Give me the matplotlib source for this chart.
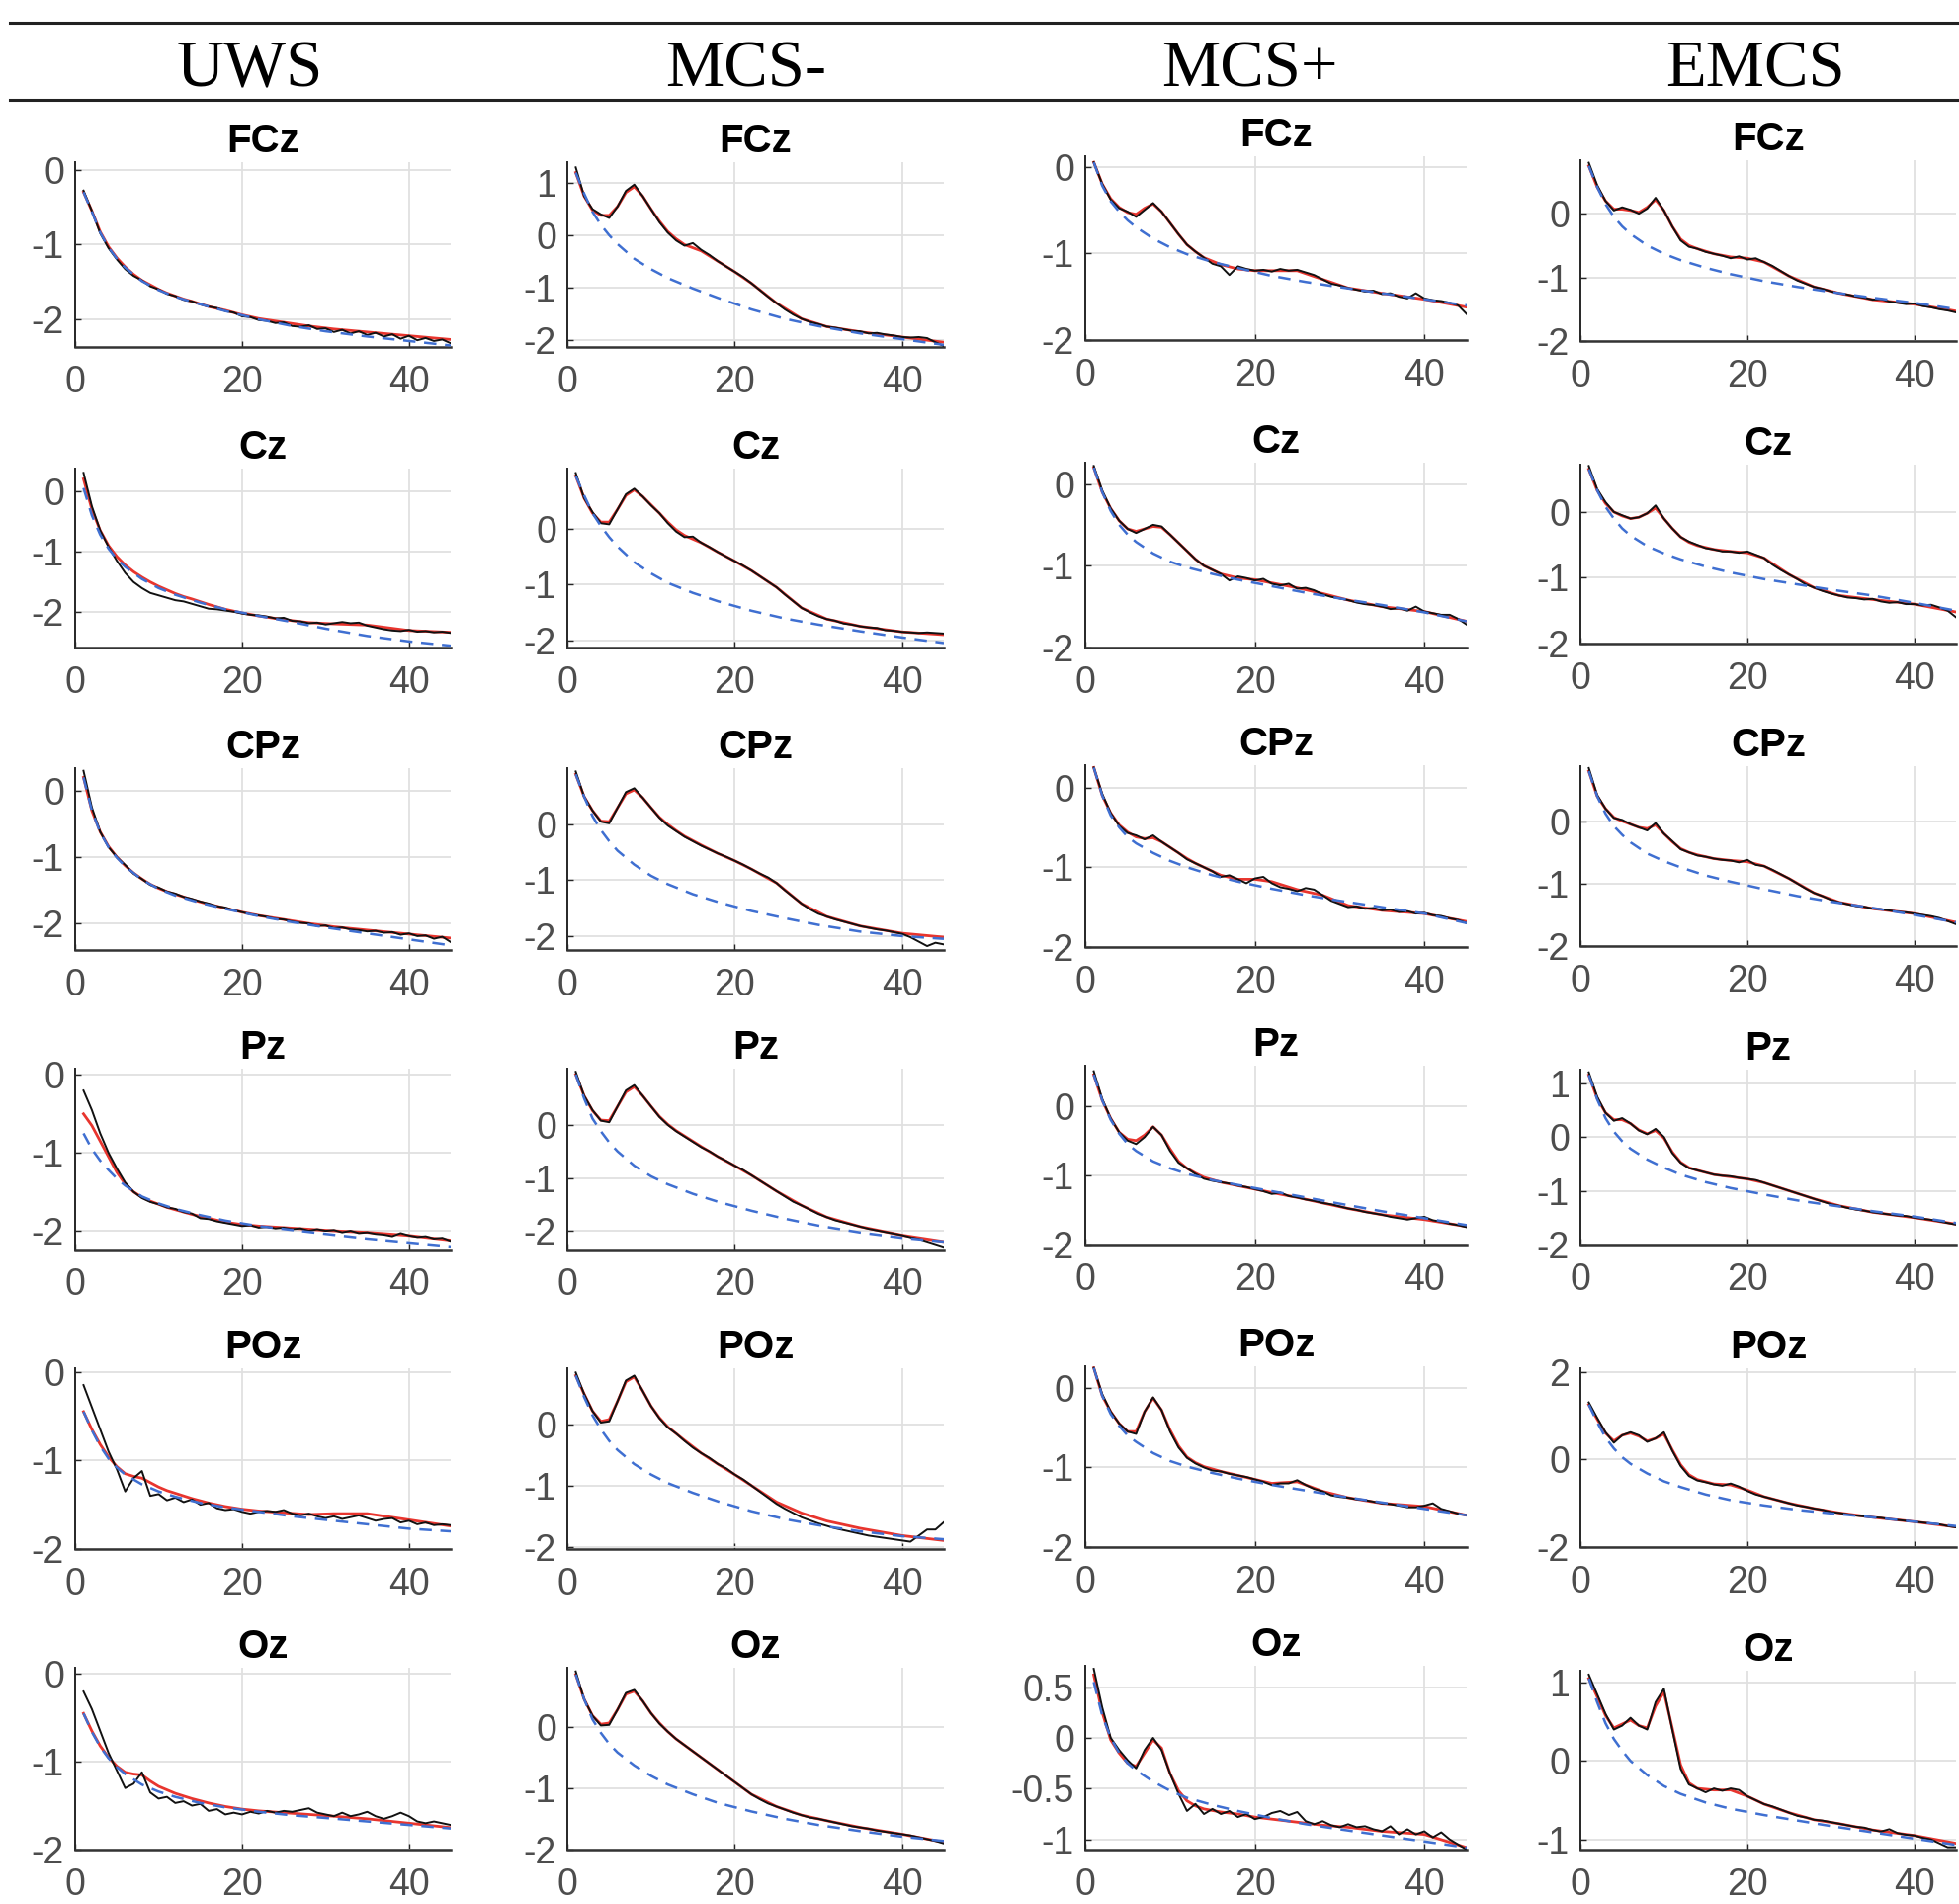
import matplotlib
matplotlib.use("Agg")
import matplotlib.pyplot as plt
from matplotlib.lines import Line2D
from matplotlib.ticker import FormatStrFormatter

plt.rcParams['font.family'] = ['Liberation Sans', 'DejaVu Sans']
plt.rcParams['axes.unicode_minus'] = False

GROUPS = ["UWS", "MCS-", "MCS+", "EMCS"]
CHANNELS = ["FCz", "Cz", "CPz", "Pz", "POz", "Oz"]

# frequency grids (Hz)
FREQ = list(range(1, 46))
FREQ_FIT = [1, 2, 3, 4, 5, 6, 7, 8, 9, 10, 11, 12, 13, 14, 16, 18, 20, 22, 25, 28, 31, 35, 40, 45]
FREQ_AP = [1, 2, 3, 4, 5, 6, 8, 10, 12, 15, 18, 22, 26, 30, 35, 40, 45]

# ---------------- UWS ----------------
UWS_FCZ_PSD = [-0.28, -0.55, -0.85, -1.05, -1.2, -1.33, -1.42, -1.48, -1.56, -1.6, -1.66, -1.69, -1.74, -1.76, -1.8,
               -1.83, -1.85, -1.89, -1.91, -1.96, -1.97, -2.01, -2.02, -2.05, -2.04, -2.09, -2.1, -2.08, -2.13, -2.12,
               -2.17, -2.14, -2.19, -2.16, -2.21, -2.18, -2.23, -2.2, -2.26, -2.22, -2.28, -2.25, -2.29, -2.27, -2.32]
UWS_FCZ_FIT = [-0.3, -0.55, -0.83, -1.03, -1.18, -1.3, -1.4, -1.48, -1.54, -1.6, -1.65, -1.69, -1.73, -1.76, -1.83,
               -1.88, -1.94, -1.99, -2.04, -2.09, -2.13, -2.17, -2.22, -2.27]
UWS_FCZ_APER = [-0.3, -0.56, -0.84, -1.04, -1.19, -1.31, -1.49, -1.61, -1.7, -1.8, -1.89, -2.0, -2.09, -2.16, -2.23,
                -2.29, -2.35]

UWS_CZ_PSD = [0.3, -0.25, -0.65, -0.92, -1.15, -1.35, -1.5, -1.6, -1.68, -1.72, -1.76, -1.8, -1.82, -1.86, -1.9,
              -1.94, -1.95, -1.97, -1.99, -2.02, -2.04, -2.05, -2.07, -2.1, -2.09, -2.14, -2.15, -2.18, -2.17, -2.2,
              -2.18, -2.16, -2.18, -2.17, -2.22, -2.25, -2.28, -2.3, -2.31, -2.29, -2.32, -2.31, -2.33, -2.32, -2.34]
UWS_CZ_FIT = [0.2, -0.3, -0.65, -0.9, -1.08, -1.22, -1.33, -1.42, -1.5, -1.57, -1.63, -1.69, -1.74, -1.78, -1.87,
              -1.95, -2.01, -2.06, -2.12, -2.17, -2.19, -2.21, -2.3, -2.33]
UWS_CZ_APER = [0.05, -0.4, -0.72, -0.95, -1.12, -1.25, -1.45, -1.6, -1.71, -1.84, -1.95, -2.06, -2.16, -2.27, -2.39,
               -2.48, -2.55]

UWS_CPZ_PSD = [0.3, -0.25, -0.62, -0.85, -1.0, -1.12, -1.25, -1.33, -1.42, -1.46, -1.52, -1.55, -1.6, -1.63, -1.67,
               -1.7, -1.74, -1.76, -1.8, -1.83, -1.86, -1.88, -1.9, -1.93, -1.94, -1.97, -1.99, -2.0, -2.04, -2.03,
               -2.07, -2.06, -2.09, -2.1, -2.12, -2.11, -2.14, -2.13, -2.17, -2.15, -2.19, -2.18, -2.23, -2.2, -2.28]
UWS_CPZ_FIT = [0.2, -0.3, -0.62, -0.84, -1.0, -1.13, -1.24, -1.33, -1.41, -1.47, -1.52, -1.56, -1.6, -1.64, -1.71,
               -1.77, -1.83, -1.88, -1.94, -2.0, -2.05, -2.1, -2.16, -2.22]
UWS_CPZ_APER = [0.2, -0.3, -0.63, -0.85, -1.01, -1.14, -1.34, -1.48, -1.58, -1.69, -1.78, -1.89, -1.98, -2.06, -2.15,
                -2.24, -2.33]

UWS_PZ_PSD = [-0.2, -0.45, -0.75, -1.0, -1.2, -1.38, -1.5, -1.58, -1.63, -1.66, -1.7, -1.72, -1.76, -1.78, -1.84,
              -1.85, -1.88, -1.9, -1.92, -1.94, -1.93, -1.96, -1.95, -1.97, -1.96, -1.98, -1.97, -2.0, -1.98, -2.0,
              -1.99, -2.02, -2.0, -2.03, -2.02, -2.04, -2.05, -2.07, -2.03, -2.06, -2.08, -2.07, -2.1, -2.09, -2.13]
UWS_PZ_FIT = [-0.5, -0.65, -0.85, -1.05, -1.25, -1.4, -1.5, -1.57, -1.62, -1.66, -1.7, -1.73, -1.76, -1.79, -1.84,
              -1.89, -1.92, -1.94, -1.96, -1.98, -2.0, -2.02, -2.06, -2.12]
UWS_PZ_APER = [-0.75, -0.95, -1.1, -1.22, -1.33, -1.42, -1.56, -1.65, -1.72, -1.8, -1.87, -1.94, -1.99, -2.04, -2.1,
               -2.15, -2.2]

UWS_POZ_PSD = [-0.15, -0.4, -0.65, -0.9, -1.1, -1.35, -1.2, -1.12, -1.4, -1.38, -1.45, -1.42, -1.47, -1.44, -1.5,
               -1.48, -1.54, -1.56, -1.55, -1.58, -1.6, -1.58, -1.57, -1.58, -1.56, -1.6, -1.62, -1.6, -1.63, -1.65,
               -1.63, -1.66, -1.64, -1.62, -1.65, -1.68, -1.66, -1.65, -1.7, -1.68, -1.72, -1.7, -1.73, -1.72, -1.73]
UWS_POZ_FIT = [-0.45, -0.65, -0.82, -0.96, -1.07, -1.15, -1.18, -1.2, -1.25, -1.3, -1.34, -1.37, -1.4, -1.43, -1.48,
               -1.52, -1.55, -1.57, -1.59, -1.61, -1.6, -1.6, -1.67, -1.74]
UWS_POZ_APER = [-0.45, -0.66, -0.84, -0.98, -1.08, -1.16, -1.27, -1.35, -1.41, -1.48, -1.53, -1.58, -1.63, -1.67,
                -1.72, -1.77, -1.8]

UWS_OZ_PSD = [-0.2, -0.4, -0.65, -0.9, -1.1, -1.3, -1.25, -1.12, -1.35, -1.42, -1.4, -1.47, -1.45, -1.5, -1.48,
              -1.56, -1.54, -1.6, -1.58, -1.6, -1.57, -1.59, -1.56, -1.58, -1.56, -1.57, -1.55, -1.53, -1.58, -1.6,
              -1.62, -1.58, -1.62, -1.6, -1.57, -1.62, -1.65, -1.62, -1.58, -1.62, -1.68, -1.7, -1.68, -1.7, -1.72]
UWS_OZ_FIT = [-0.45, -0.65, -0.82, -0.95, -1.05, -1.12, -1.14, -1.15, -1.22, -1.28, -1.32, -1.36, -1.39, -1.42,
              -1.47, -1.51, -1.54, -1.56, -1.58, -1.6, -1.62, -1.65, -1.7, -1.75]
UWS_OZ_APER = [-0.45, -0.66, -0.83, -0.96, -1.06, -1.14, -1.26, -1.34, -1.4, -1.47, -1.52, -1.57, -1.61, -1.64, -1.68,
               -1.72, -1.76]

# ---------------- MCS- ----------------
MCSM_FCZ_PSD = [1.3, 0.75, 0.5, 0.4, 0.33, 0.55, 0.85, 0.97, 0.75, 0.5, 0.25, 0.05, -0.1, -0.2, -0.15, -0.28, -0.38,
                -0.5, -0.6, -0.7, -0.8, -0.92, -1.05, -1.18, -1.3, -1.42, -1.52, -1.6, -1.66, -1.7, -1.75, -1.77,
                -1.8, -1.83, -1.84, -1.88, -1.87, -1.9, -1.92, -1.95, -1.96, -1.95, -1.97, -2.05, -2.12]
MCSM_FCZ_FIT = [1.2, 0.75, 0.48, 0.38, 0.38, 0.55, 0.82, 0.93, 0.75, 0.5, 0.27, 0.07, -0.07, -0.18, -0.3, -0.5, -0.7,
                -0.92, -1.3, -1.6, -1.75, -1.85, -1.95, -2.05]
MCSM_FCZ_APER = [1.2, 0.8, 0.45, 0.2, 0.0, -0.17, -0.45, -0.65, -0.82, -1.02, -1.2, -1.42, -1.6, -1.74, -1.88, -1.99,
                 -2.1]

MCSM_CZ_PSD = [1.0, 0.55, 0.3, 0.1, 0.08, 0.35, 0.62, 0.72, 0.58, 0.42, 0.28, 0.1, -0.05, -0.15, -0.14, -0.25, -0.33,
               -0.42, -0.5, -0.58, -0.66, -0.75, -0.85, -0.95, -1.05, -1.18, -1.3, -1.42, -1.5, -1.57, -1.62, -1.65,
               -1.7, -1.72, -1.75, -1.77, -1.78, -1.82, -1.83, -1.85, -1.86, -1.87, -1.86, -1.87, -1.88]
MCSM_CZ_FIT = [0.95, 0.55, 0.28, 0.12, 0.12, 0.35, 0.6, 0.7, 0.58, 0.43, 0.28, 0.12, -0.02, -0.12, -0.25, -0.42,
               -0.58, -0.75, -1.05, -1.42, -1.62, -1.75, -1.85, -1.9]
MCSM_CZ_APER = [0.95, 0.6, 0.28, 0.05, -0.15, -0.32, -0.6, -0.8, -0.97, -1.15, -1.3, -1.47, -1.61, -1.72, -1.84,
                -1.95, -2.05]

MCSM_CPZ_PSD = [0.95, 0.5, 0.25, 0.05, 0.02, 0.3, 0.58, 0.65, 0.48, 0.3, 0.12, -0.02, -0.12, -0.22, -0.3, -0.38,
                -0.45, -0.52, -0.58, -0.65, -0.72, -0.8, -0.88, -0.95, -1.05, -1.18, -1.3, -1.42, -1.52, -1.6, -1.65,
                -1.7, -1.74, -1.78, -1.82, -1.85, -1.88, -1.9, -1.93, -1.96, -2.02, -2.1, -2.18, -2.12, -2.15]
MCSM_CPZ_FIT = [0.9, 0.5, 0.25, 0.06, 0.05, 0.3, 0.55, 0.62, 0.48, 0.3, 0.13, 0.0, -0.11, -0.21, -0.37, -0.52, -0.65,
                -0.8, -1.05, -1.42, -1.65, -1.82, -1.95, -2.02]
MCSM_CPZ_APER = [0.9, 0.5, 0.15, -0.1, -0.3, -0.47, -0.72, -0.92, -1.07, -1.25, -1.39, -1.55, -1.68, -1.8, -1.92,
                 -2.0, -2.05]

MCSM_PZ_PSD = [1.0, 0.55, 0.28, 0.08, 0.05, 0.35, 0.65, 0.75, 0.55, 0.35, 0.15, 0.0, -0.12, -0.22, -0.32, -0.42,
               -0.5, -0.6, -0.68, -0.77, -0.85, -0.95, -1.05, -1.15, -1.25, -1.35, -1.45, -1.52, -1.6, -1.68, -1.74,
               -1.8, -1.84, -1.88, -1.92, -1.96, -1.99, -2.02, -2.05, -2.08, -2.12, -2.15, -2.2, -2.25, -2.3]
MCSM_PZ_FIT = [0.95, 0.55, 0.27, 0.09, 0.08, 0.35, 0.62, 0.72, 0.55, 0.35, 0.16, 0.01, -0.11, -0.21, -0.41, -0.6,
               -0.77, -0.95, -1.25, -1.52, -1.74, -1.92, -2.08, -2.2]
MCSM_PZ_APER = [0.95, 0.5, 0.12, -0.12, -0.33, -0.5, -0.77, -0.97, -1.12, -1.3, -1.45, -1.62, -1.77, -1.9, -2.03,
                -2.13, -2.2]

MCSM_POZ_PSD = [0.85, 0.5, 0.22, 0.03, 0.05, 0.38, 0.72, 0.8, 0.55, 0.3, 0.1, -0.05, -0.15, -0.27, -0.38, -0.47,
                -0.55, -0.65, -0.72, -0.82, -0.9, -1.0, -1.1, -1.2, -1.3, -1.38, -1.45, -1.52, -1.57, -1.62, -1.66,
                -1.7, -1.73, -1.76, -1.79, -1.82, -1.84, -1.86, -1.88, -1.9, -1.92, -1.82, -1.72, -1.72, -1.6]
MCSM_POZ_FIT = [0.8, 0.5, 0.22, 0.05, 0.08, 0.38, 0.7, 0.78, 0.55, 0.3, 0.11, -0.04, -0.15, -0.26, -0.47, -0.65,
                -0.82, -1.0, -1.27, -1.45, -1.58, -1.7, -1.82, -1.9]
MCSM_POZ_APER = [0.8, 0.45, 0.15, -0.08, -0.27, -0.42, -0.65, -0.82, -0.96, -1.12, -1.26, -1.42, -1.55, -1.65, -1.75,
                 -1.83, -1.88]

MCSM_OZ_PSD = [0.9, 0.45, 0.18, 0.02, 0.03, 0.28, 0.55, 0.6, 0.42, 0.22, 0.05, -0.08, -0.2, -0.3, -0.4, -0.5, -0.6,
               -0.7, -0.8, -0.9, -1.0, -1.1, -1.18, -1.25, -1.3, -1.35, -1.4, -1.44, -1.48, -1.5, -1.53, -1.56, -1.59,
               -1.62, -1.64, -1.66, -1.69, -1.71, -1.73, -1.75, -1.77, -1.8, -1.83, -1.86, -1.9]
MCSM_OZ_FIT = [0.85, 0.45, 0.18, 0.04, 0.06, 0.28, 0.53, 0.58, 0.42, 0.22, 0.06, -0.08, -0.2, -0.3, -0.5, -0.7, -0.9,
               -1.1, -1.3, -1.44, -1.53, -1.64, -1.75, -1.88]
MCSM_OZ_APER = [0.85, 0.45, 0.12, -0.1, -0.28, -0.42, -0.63, -0.8, -0.94, -1.1, -1.24, -1.38, -1.5, -1.6, -1.7,
                -1.79, -1.86]

# ---------------- MCS+ ----------------
MCSP_FCZ_PSD = [0.05, -0.2, -0.38, -0.48, -0.52, -0.58, -0.5, -0.42, -0.52, -0.65, -0.78, -0.9, -0.98, -1.05, -1.12,
                -1.15, -1.25, -1.15, -1.18, -1.2, -1.19, -1.21, -1.18, -1.2, -1.19, -1.22, -1.25, -1.3, -1.35, -1.37,
                -1.4, -1.42, -1.44, -1.43, -1.47, -1.46, -1.5, -1.52, -1.46, -1.52, -1.54, -1.55, -1.57, -1.6, -1.7]
MCSP_FCZ_FIT = [0.05, -0.2, -0.37, -0.47, -0.53, -0.55, -0.48, -0.43, -0.52, -0.65, -0.78, -0.9, -0.98, -1.05, -1.13,
                -1.18, -1.2, -1.2, -1.2, -1.3, -1.4, -1.46, -1.53, -1.62]
MCSP_FCZ_APER = [0.05, -0.22, -0.4, -0.52, -0.62, -0.7, -0.83, -0.93, -1.01, -1.1, -1.17, -1.26, -1.33, -1.39, -1.46,
                 -1.53, -1.6]

MCSP_CZ_PSD = [0.22, -0.08, -0.3, -0.45, -0.55, -0.6, -0.55, -0.5, -0.52, -0.62, -0.72, -0.82, -0.92, -1.0, -1.05,
               -1.1, -1.18, -1.13, -1.15, -1.18, -1.16, -1.22, -1.24, -1.22, -1.28, -1.27, -1.3, -1.35, -1.38, -1.4,
               -1.42, -1.45, -1.47, -1.48, -1.5, -1.53, -1.52, -1.55, -1.5, -1.56, -1.58, -1.6, -1.6, -1.65, -1.72]
MCSP_CZ_FIT = [0.2, -0.1, -0.3, -0.45, -0.55, -0.58, -0.55, -0.52, -0.53, -0.62, -0.72, -0.82, -0.92, -1.0, -1.1,
               -1.15, -1.17, -1.21, -1.27, -1.34, -1.42, -1.5, -1.56, -1.68]
MCSP_CZ_APER = [0.2, -0.1, -0.33, -0.5, -0.62, -0.71, -0.85, -0.95, -1.02, -1.1, -1.17, -1.25, -1.33, -1.4, -1.48,
                -1.57, -1.68]

MCSP_CPZ_PSD = [0.25, -0.08, -0.32, -0.48, -0.57, -0.6, -0.65, -0.6, -0.68, -0.75, -0.82, -0.9, -0.95, -1.0, -1.05,
                -1.12, -1.1, -1.15, -1.2, -1.14, -1.12, -1.2, -1.25, -1.27, -1.3, -1.26, -1.28, -1.35, -1.42, -1.46,
                -1.5, -1.49, -1.52, -1.51, -1.54, -1.53, -1.56, -1.55, -1.58, -1.57, -1.6, -1.61, -1.64, -1.66, -1.7]
MCSP_CPZ_FIT = [0.25, -0.1, -0.32, -0.47, -0.56, -0.62, -0.64, -0.63, -0.68, -0.75, -0.82, -0.89, -0.95, -1.0, -1.1,
                -1.15, -1.15, -1.18, -1.28, -1.35, -1.48, -1.54, -1.58, -1.68]
MCSP_CPZ_APER = [0.25, -0.1, -0.35, -0.5, -0.62, -0.7, -0.82, -0.92, -1.0, -1.1, -1.18, -1.27, -1.35, -1.42, -1.5,
                 -1.58, -1.7]

MCSP_PZ_PSD = [0.5, 0.1, -0.18, -0.38, -0.5, -0.55, -0.45, -0.3, -0.42, -0.65, -0.82, -0.9, -0.98, -1.05, -1.08,
               -1.1, -1.12, -1.15, -1.17, -1.2, -1.23, -1.27, -1.25, -1.3, -1.32, -1.35, -1.37, -1.4, -1.42, -1.45,
               -1.48, -1.5, -1.53, -1.55, -1.57, -1.6, -1.62, -1.64, -1.62, -1.6, -1.65, -1.67, -1.7, -1.72, -1.75]
MCSP_PZ_FIT = [0.45, 0.08, -0.18, -0.38, -0.48, -0.5, -0.42, -0.3, -0.42, -0.62, -0.8, -0.9, -0.97, -1.03, -1.1,
               -1.15, -1.2, -1.25, -1.32, -1.4, -1.48, -1.57, -1.64, -1.74]
MCSP_PZ_APER = [0.45, 0.08, -0.2, -0.4, -0.55, -0.65, -0.8, -0.9, -0.98, -1.07, -1.14, -1.23, -1.32, -1.41, -1.52,
                -1.62, -1.72]

MCSP_POZ_PSD = [0.25, -0.08, -0.3, -0.45, -0.55, -0.58, -0.3, -0.12, -0.28, -0.55, -0.75, -0.88, -0.95, -1.0, -1.04,
                -1.05, -1.08, -1.1, -1.12, -1.15, -1.18, -1.22, -1.2, -1.2, -1.16, -1.22, -1.27, -1.3, -1.35, -1.37,
                -1.38, -1.4, -1.41, -1.43, -1.45, -1.46, -1.48, -1.5, -1.5, -1.48, -1.45, -1.52, -1.55, -1.58, -1.6]
MCSP_POZ_FIT = [0.25, -0.1, -0.3, -0.45, -0.55, -0.55, -0.3, -0.13, -0.28, -0.53, -0.73, -0.87, -0.94, -0.99, -1.05,
                -1.1, -1.15, -1.2, -1.18, -1.3, -1.38, -1.45, -1.49, -1.6]
MCSP_POZ_APER = [0.25, -0.1, -0.33, -0.48, -0.6, -0.68, -0.82, -0.92, -0.99, -1.07, -1.14, -1.22, -1.29, -1.36, -1.44,
                 -1.52, -1.6]

MCSP_OZ_PSD = [0.68, 0.3, 0.0, -0.12, -0.22, -0.3, -0.12, 0.0, -0.12, -0.35, -0.55, -0.72, -0.65, -0.75, -0.7, -0.75,
               -0.72, -0.78, -0.75, -0.8, -0.78, -0.74, -0.72, -0.76, -0.73, -0.82, -0.85, -0.82, -0.86, -0.88, -0.85,
               -0.88, -0.87, -0.9, -0.92, -0.87, -0.95, -0.9, -0.95, -0.92, -0.98, -0.93, -1.0, -1.05, -1.1]
MCSP_OZ_FIT = [0.62, 0.25, -0.02, -0.15, -0.25, -0.28, -0.15, -0.02, -0.1, -0.35, -0.52, -0.62, -0.67, -0.7, -0.73,
               -0.75, -0.78, -0.8, -0.83, -0.86, -0.88, -0.92, -0.95, -1.08]
MCSP_OZ_APER = [0.55, 0.22, 0.0, -0.15, -0.25, -0.32, -0.43, -0.52, -0.59, -0.66, -0.72, -0.79, -0.85, -0.9, -0.96,
                -1.02, -1.08]

# ---------------- EMCS ----------------
EMCS_FCZ_PSD = [0.8, 0.45, 0.2, 0.05, 0.1, 0.06, 0.0, 0.08, 0.25, 0.05, -0.2, -0.42, -0.52, -0.55, -0.6, -0.63, -0.66,
                -0.7, -0.67, -0.72, -0.7, -0.76, -0.82, -0.9, -0.98, -1.05, -1.1, -1.15, -1.18, -1.22, -1.25, -1.27,
                -1.3, -1.32, -1.35, -1.34, -1.38, -1.4, -1.42, -1.41, -1.45, -1.47, -1.5, -1.52, -1.55]
EMCS_FCZ_FIT = [0.75, 0.42, 0.2, 0.07, 0.07, 0.05, 0.02, 0.1, 0.22, 0.05, -0.2, -0.4, -0.5, -0.55, -0.63, -0.68, -0.7,
                -0.76, -0.98, -1.15, -1.25, -1.35, -1.42, -1.53]
EMCS_FCZ_APER = [0.75, 0.42, 0.15, -0.05, -0.2, -0.32, -0.5, -0.63, -0.73, -0.85, -0.95, -1.06, -1.15, -1.23, -1.32,
                 -1.4, -1.5]

EMCS_CZ_PSD = [0.7, 0.35, 0.15, 0.0, -0.05, -0.1, -0.08, -0.02, 0.1, -0.1, -0.25, -0.38, -0.45, -0.5, -0.55, -0.57,
               -0.6, -0.6, -0.62, -0.6, -0.65, -0.7, -0.8, -0.88, -0.95, -1.02, -1.1, -1.15, -1.2, -1.24, -1.27, -1.3,
               -1.31, -1.33, -1.32, -1.36, -1.38, -1.37, -1.4, -1.4, -1.42, -1.41, -1.45, -1.5, -1.6]
EMCS_CZ_FIT = [0.65, 0.33, 0.13, 0.0, -0.06, -0.1, -0.08, -0.02, 0.06, -0.1, -0.25, -0.38, -0.46, -0.51, -0.57, -0.6,
               -0.62, -0.7, -0.95, -1.15, -1.27, -1.33, -1.4, -1.52]
EMCS_CZ_APER = [0.65, 0.33, 0.08, -0.1, -0.25, -0.36, -0.52, -0.63, -0.72, -0.83, -0.92, -1.02, -1.1, -1.18, -1.27,
                -1.38, -1.5]

EMCS_CPZ_PSD = [0.85, 0.42, 0.2, 0.05, 0.02, -0.05, -0.1, -0.15, -0.03, -0.2, -0.32, -0.45, -0.5, -0.55, -0.57, -0.6,
                -0.62, -0.63, -0.66, -0.62, -0.7, -0.72, -0.78, -0.85, -0.92, -1.0, -1.08, -1.15, -1.2, -1.26, -1.3,
                -1.33, -1.36, -1.37, -1.4, -1.41, -1.43, -1.45, -1.46, -1.48, -1.5, -1.52, -1.55, -1.6, -1.65]
EMCS_CPZ_FIT = [0.8, 0.4, 0.2, 0.06, 0.0, -0.05, -0.1, -0.12, -0.06, -0.2, -0.33, -0.44, -0.5, -0.54, -0.6, -0.63,
                -0.65, -0.72, -0.92, -1.15, -1.3, -1.4, -1.48, -1.62]
EMCS_CPZ_APER = [0.8, 0.4, 0.12, -0.08, -0.22, -0.34, -0.52, -0.64, -0.74, -0.87, -0.97, -1.09, -1.2, -1.29, -1.39,
                 -1.5, -1.62]

EMCS_PZ_PSD = [1.2, 0.75, 0.45, 0.3, 0.35, 0.25, 0.12, 0.05, 0.15, 0.0, -0.3, -0.48, -0.58, -0.62, -0.66, -0.7, -0.72,
               -0.73, -0.76, -0.78, -0.8, -0.85, -0.9, -0.95, -1.0, -1.05, -1.1, -1.15, -1.2, -1.25, -1.28, -1.32,
               -1.35, -1.37, -1.4, -1.42, -1.44, -1.46, -1.47, -1.5, -1.52, -1.54, -1.57, -1.6, -1.63]
EMCS_PZ_FIT = [1.15, 0.72, 0.45, 0.32, 0.32, 0.25, 0.13, 0.06, 0.12, -0.02, -0.28, -0.47, -0.57, -0.62, -0.7, -0.74,
               -0.78, -0.85, -1.0, -1.15, -1.28, -1.4, -1.5, -1.62]
EMCS_PZ_APER = [1.15, 0.7, 0.35, 0.1, -0.08, -0.22, -0.42, -0.57, -0.7, -0.84, -0.95, -1.07, -1.18, -1.27, -1.38,
                -1.48, -1.6]

EMCS_POZ_PSD = [1.3, 0.95, 0.62, 0.38, 0.55, 0.62, 0.55, 0.4, 0.48, 0.62, 0.2, -0.15, -0.38, -0.48, -0.52, -0.57,
                -0.6, -0.55, -0.62, -0.72, -0.8, -0.85, -0.9, -0.95, -1.0, -1.05, -1.08, -1.12, -1.15, -1.2, -1.22,
                -1.25, -1.28, -1.3, -1.32, -1.33, -1.36, -1.38, -1.4, -1.42, -1.44, -1.46, -1.48, -1.52, -1.55]
EMCS_POZ_FIT = [1.25, 0.92, 0.6, 0.42, 0.55, 0.6, 0.53, 0.42, 0.48, 0.58, 0.22, -0.12, -0.35, -0.46, -0.56, -0.58,
                -0.7, -0.85, -1.0, -1.12, -1.22, -1.32, -1.42, -1.54]
EMCS_POZ_APER = [1.25, 0.85, 0.5, 0.25, 0.05, -0.1, -0.32, -0.5, -0.63, -0.8, -0.93, -1.05, -1.15, -1.23, -1.32,
                 -1.42, -1.52]

EMCS_OZ_PSD = [1.1, 0.85, 0.6, 0.4, 0.45, 0.55, 0.45, 0.4, 0.75, 0.92, 0.4, -0.1, -0.3, -0.35, -0.4, -0.35, -0.38,
               -0.35, -0.37, -0.45, -0.5, -0.55, -0.58, -0.62, -0.66, -0.7, -0.72, -0.75, -0.76, -0.78, -0.8, -0.82,
               -0.84, -0.85, -0.88, -0.9, -0.87, -0.92, -0.94, -0.95, -0.98, -1.0, -1.05, -1.1, -1.1]
EMCS_OZ_FIT = [1.05, 0.82, 0.58, 0.42, 0.47, 0.52, 0.45, 0.42, 0.7, 0.88, 0.42, -0.05, -0.28, -0.35, -0.37, -0.37,
               -0.45, -0.55, -0.66, -0.75, -0.8, -0.88, -0.95, -1.05]
EMCS_OZ_APER = [1.05, 0.75, 0.48, 0.28, 0.13, 0.0, -0.18, -0.32, -0.42, -0.53, -0.61, -0.69, -0.76, -0.83, -0.91,
                -0.99, -1.07]

# y-axis limits and ticks, one entry per channel (rows), per group (columns)
UWS_YLIM = [(-2.37, 0.1), (-2.58, 0.37), (-2.40, 0.34), (-2.24, 0.08), (-2.0, 0.04), (-2.0, 0.07)]
MCSM_YLIM = [(-2.14, 1.4), (-2.13, 1.08), (-2.25, 1.01), (-2.35, 1.06), (-2.04, 0.92), (-2.0, 0.96)]
MCSP_YLIM = [(-2.0, 0.12), (-2.0, 0.26), (-2.0, 0.28), (-2.0, 0.58), (-2.0, 0.27), (-1.1, 0.71)]
EMCS_YLIM = [(-2.0, 0.84), (-2.0, 0.72), (-2.0, 0.88), (-2.0, 1.25), (-2.0, 2.08), (-1.13, 1.15)]

UWS_YTICKS = [[-2, -1, 0]] * 6
MCSM_YTICKS = [[-2, -1, 0, 1], [-2, -1, 0], [-2, -1, 0], [-2, -1, 0], [-2, -1, 0], [-2, -1, 0]]
MCSP_YTICKS = [[-2, -1, 0]] * 5 + [[-1, -0.5, 0, 0.5]]
EMCS_YTICKS = [[-2, -1, 0], [-2, -1, 0], [-2, -1, 0], [-2, -1, 0, 1], [-2, 0, 2], [-1, 0, 1]]

series = {
    "UWS": [(UWS_FCZ_PSD, UWS_FCZ_FIT, UWS_FCZ_APER), (UWS_CZ_PSD, UWS_CZ_FIT, UWS_CZ_APER),
            (UWS_CPZ_PSD, UWS_CPZ_FIT, UWS_CPZ_APER), (UWS_PZ_PSD, UWS_PZ_FIT, UWS_PZ_APER),
            (UWS_POZ_PSD, UWS_POZ_FIT, UWS_POZ_APER), (UWS_OZ_PSD, UWS_OZ_FIT, UWS_OZ_APER)],
    "MCS-": [(MCSM_FCZ_PSD, MCSM_FCZ_FIT, MCSM_FCZ_APER), (MCSM_CZ_PSD, MCSM_CZ_FIT, MCSM_CZ_APER),
             (MCSM_CPZ_PSD, MCSM_CPZ_FIT, MCSM_CPZ_APER), (MCSM_PZ_PSD, MCSM_PZ_FIT, MCSM_PZ_APER),
             (MCSM_POZ_PSD, MCSM_POZ_FIT, MCSM_POZ_APER), (MCSM_OZ_PSD, MCSM_OZ_FIT, MCSM_OZ_APER)],
    "MCS+": [(MCSP_FCZ_PSD, MCSP_FCZ_FIT, MCSP_FCZ_APER), (MCSP_CZ_PSD, MCSP_CZ_FIT, MCSP_CZ_APER),
             (MCSP_CPZ_PSD, MCSP_CPZ_FIT, MCSP_CPZ_APER), (MCSP_PZ_PSD, MCSP_PZ_FIT, MCSP_PZ_APER),
             (MCSP_POZ_PSD, MCSP_POZ_FIT, MCSP_POZ_APER), (MCSP_OZ_PSD, MCSP_OZ_FIT, MCSP_OZ_APER)],
    "EMCS": [(EMCS_FCZ_PSD, EMCS_FCZ_FIT, EMCS_FCZ_APER), (EMCS_CZ_PSD, EMCS_CZ_FIT, EMCS_CZ_APER),
             (EMCS_CPZ_PSD, EMCS_CPZ_FIT, EMCS_CPZ_APER), (EMCS_PZ_PSD, EMCS_PZ_FIT, EMCS_PZ_APER),
             (EMCS_POZ_PSD, EMCS_POZ_FIT, EMCS_POZ_APER), (EMCS_OZ_PSD, EMCS_OZ_FIT, EMCS_OZ_APER)],
}
ylims = {"UWS": UWS_YLIM, "MCS-": MCSM_YLIM, "MCS+": MCSP_YLIM, "EMCS": EMCS_YLIM}
yticks = {"UWS": UWS_YTICKS, "MCS-": MCSM_YTICKS, "MCS+": MCSP_YTICKS, "EMCS": EMCS_YTICKS}

# layout in pixels of the 1982x1926 canvas
W, H = 1982, 1926
COL_LEFT = [76, 574, 1098, 1599]
COL_WIDTH = [380, 381, 386, 380]
ROW_TOP = [[164, 474, 777, 1081, 1384, 1687], [164, 474, 777, 1081, 1384, 1687],
           [158, 468, 774, 1078, 1382, 1685], [162, 470, 775, 1082, 1384, 1690]]
ROW_BOT = [[351, 655, 961, 1264, 1567, 1871], [351, 655, 961, 1264, 1567, 1871],
           [344, 655, 958, 1259, 1565, 1871], [345, 651, 957, 1259, 1565, 1871]]
HEADER_X = [253, 755, 1264, 1776]

fig = plt.figure(figsize=(W / 100, H / 100), dpi=100)

tick_color = "#4d4d4d"
for c, grp in enumerate(GROUPS):
    for r, ch in enumerate(CHANNELS):
        top, bot = ROW_TOP[c][r], ROW_BOT[c][r]
        ax = fig.add_axes([COL_LEFT[c] / W, 1 - bot / H, COL_WIDTH[c] / W, (bot - top) / H])
        psd, fit, aper = series[grp][r]
        ax.plot(FREQ_FIT, fit, color="#e8352e", lw=2.0, zorder=3)
        ax.plot(FREQ, psd, color="#111111", lw=1.4, zorder=4)
        ax.plot(FREQ_AP, aper, color="#3f6fd1", lw=1.8, ls=(0, (5, 3.5)), zorder=5)
        ax.set_xlim(0, 45)
        ax.set_ylim(*ylims[grp][r])
        ax.set_xticks([0, 20, 40])
        ax.set_yticks(yticks[grp][r])
        ax.yaxis.set_major_formatter(FormatStrFormatter('%g'))
        ax.grid(True, color="#e0e0e0", lw=1.3)
        ax.set_axisbelow(True)
        for s in ["top", "right"]:
            ax.spines[s].set_visible(False)
        ax.spines["left"].set_color("#262626")
        ax.spines["bottom"].set_color("#333333")
        ax.spines["left"].set_linewidth(1.4)
        ax.spines["bottom"].set_linewidth(1.8)
        ax.tick_params(axis="both", direction="in", length=4, width=1, colors="#262626",
                       labelcolor=tick_color, labelsize=27)
        ax.tick_params(axis="x", pad=13)
        ax.tick_params(axis="y", pad=8)
        ax.set_title(ch, fontsize=29, fontweight="bold", pad=7)

# column headers with rules
for c, grp in enumerate(GROUPS):
    fig.text(HEADER_X[c] / W, 1 - 71 / H, grp, ha="center", va="center",
             fontsize=48, family=["Liberation Serif", "DejaVu Serif"])
for y in [23, 101]:
    fig.add_artist(Line2D([10 / W, 1.0], [1 - y / H, 1 - y / H], transform=fig.transFigure,
                          color="#222222", lw=2.2))

fig.savefig("out.png", dpi=100)
